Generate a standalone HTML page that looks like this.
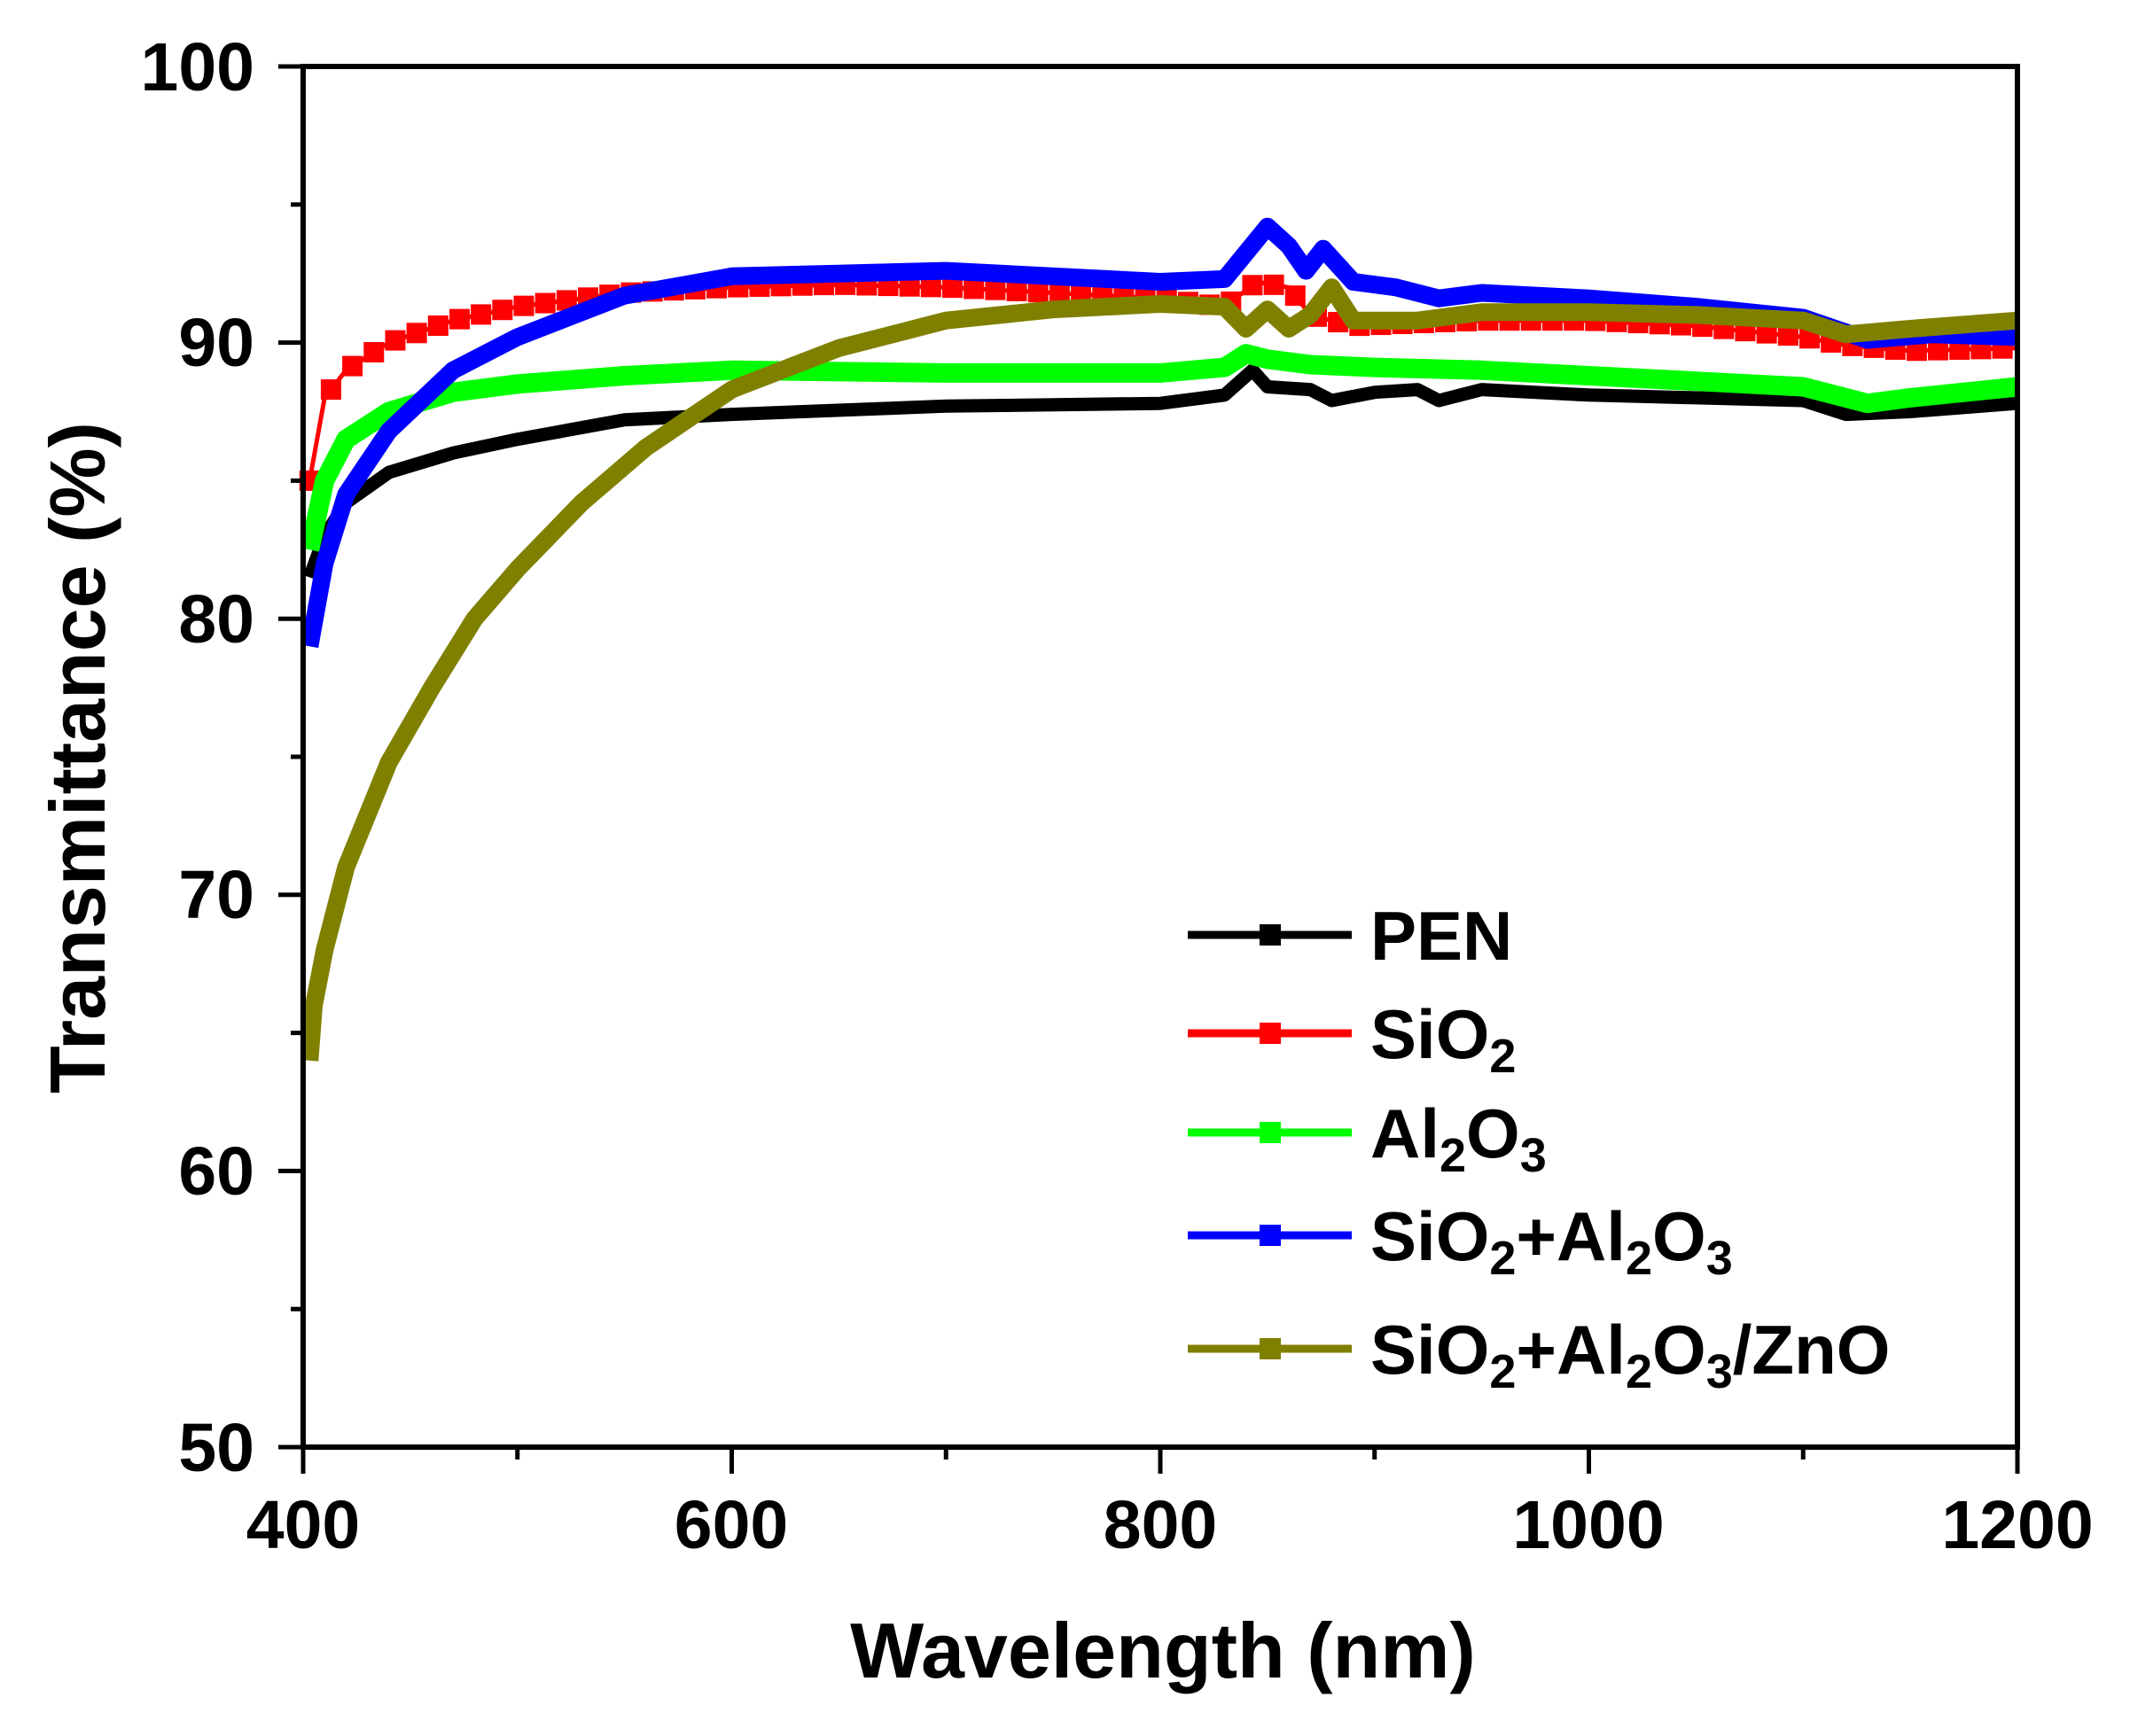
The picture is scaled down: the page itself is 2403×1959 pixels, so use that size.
<!DOCTYPE html>
<html><head><meta charset="utf-8"><style>
html,body{margin:0;padding:0;background:#fff;}
svg{display:block;font-family:"Liberation Sans",Arial,sans-serif;font-weight:bold;}
</style></head><body>
<svg id="s" width="2403" height="1959" viewBox="0 0 2403 1959" xmlns="http://www.w3.org/2000/svg">
<rect width="2403" height="1959" fill="#fff"/>
<g id="curves"></g>
<rect x="342" y="75" width="1934" height="1558" fill="none" stroke="#000" stroke-width="6"/>
<g id="ticks" stroke="#000" stroke-width="5"></g>
<g font-size="77" text-anchor="end">
<text x="287" y="102">100</text>
<text x="287" y="413">90</text>
<text x="287" y="725">80</text>
<text x="287" y="1036">70</text>
<text x="287" y="1348">60</text>
<text x="287" y="1660">50</text>
</g>
<g font-size="77" text-anchor="middle">
<text x="342" y="1747">400</text>
<text x="825" y="1747">600</text>
<text x="1309" y="1747">800</text>
<text x="1792" y="1747">1000</text>
<text x="2276" y="1747">1200</text>
</g>
<text x="1312" y="1893" font-size="88" text-anchor="middle">Wavelength (nm)</text>
<text transform="translate(118,855) rotate(-90)" font-size="88" text-anchor="middle">Transmittance (%)</text>
<g id="legend" font-size="78"></g>
</svg>
<script>
const X=w=>342+(w-400)*1934/800, Y=t=>75+(100-t)*1558/50;
const series=[
["#000",15,[[403,81.5],[410,83],[420,84.2],[440,85.3],[470,86],[500,86.5],[550,87.2],[600,87.4],[700,87.7],[800,87.8],[830,88.1],[843,89],[850,88.4],[870,88.3],[880,87.9],[900,88.2],[920,88.3],[930,87.9],[950,88.3],[1000,88.1],[1050,88],[1100,87.9],[1120,87.4],[1150,87.5],[1200,87.8]]],
["#00ff00",22,[[403,82.5],[410,85],[420,86.5],[440,87.5],[470,88.2],[500,88.5],[550,88.8],[600,89],[700,88.9],[800,88.9],[830,89.1],[840,89.6],[850,89.4],[870,89.2],[900,89.1],[950,89],[1000,88.8],[1050,88.6],[1100,88.4],[1130,87.8],[1150,88],[1200,88.4]]],
["#0000ff",20,[[403,79],[410,82],[420,84.5],[440,86.8],[470,89],[500,90.2],[550,91.7],[600,92.4],[650,92.5],[700,92.6],[800,92.2],[830,92.3],[850,94.2],[860,93.5],[868,92.6],[876,93.4],[890,92.2],[910,92],[930,91.6],[950,91.8],[1000,91.6],[1050,91.3],[1100,90.9],[1130,90.1],[1160,90.3],[1200,90.2]]],
["#808000",20,[[403,64],[405,66],[410,68],[420,71],[440,74.8],[460,77.5],[480,80],[500,81.8],[530,84.2],[560,86.2],[600,88.3],[650,89.8],[700,90.8],[750,91.2],[800,91.4],[830,91.3],[840,90.5],[850,91.2],[860,90.5],[870,91],[880,92],[890,90.8],[920,90.8],[950,91.1],[1000,91.1],[1050,91],[1100,90.8],[1120,90.3],[1150,90.5],[1200,90.8]]]
];
const red=[[403,85],[410,88],[420,89],[440,90],[470,90.8],[500,91.3],[550,91.8],[600,92],[650,92.1],[700,92],[800,91.6],[830,91.3],[845,92.2],[860,92],[870,91],[890,90.6],[950,90.8],[1000,90.8],[1050,90.6],[1100,90.2],[1120,89.9],[1150,89.7],[1200,89.8]];
function interp(d,w){for(let i=0;i<d.length-1;i++){if(w>=d[i][0]&&w<=d[i+1][0]){const f=(w-d[i][0])/(d[i+1][0]-d[i][0]);return d[i][1]+f*(d[i+1][1]-d[i][1]);}}return d[d.length-1][1];}
let h='';
function pl(d,c,sw){return `<polyline fill="none" stroke="${c}" stroke-width="${sw}" stroke-linejoin="round" points="${d.map(p=>X(p[0]).toFixed(1)+','+Y(p[1]).toFixed(1)).join(' ')}"/>`;}
h+=pl(red,"#ff0000",5);
for(let w=403;w<=1200;w+=10){const x=X(w),y=Y(interp(red,w));h+=`<rect x="${x-11.5}" y="${y-11.5}" width="23" height="23" fill="#ff0000"/>`;}
for(const s of series) h+=pl(s[2],s[0],s[1]);
document.getElementById('curves').innerHTML=h;
let t='';
for(let v=50;v<=100;v+=5){const y=Y(v);t+=`<line x1="${v%10==0?314:328}" x2="342" y1="${y}" y2="${y}"/>`;}
for(let w=400;w<=1200;w+=100){const x=X(w);t+=`<line x1="${x}" x2="${x}" y1="1633" y2="${w%200==0?1663:1647}"/>`;}
document.getElementById('ticks').innerHTML=t;
const L=[["#000","PEN",1055],["#ff0000","SiO<tspan font-size='54' dy='16'>2</tspan>",1166],["#00ff00","Al<tspan font-size='54' dy='16'>2</tspan><tspan dy='-16'>O</tspan><tspan font-size='54' dy='16'>3</tspan>",1278],["#0000ff","SiO<tspan font-size='54' dy='16'>2</tspan><tspan dy='-16'>+Al</tspan><tspan font-size='54' dy='16'>2</tspan><tspan dy='-16'>O</tspan><tspan font-size='54' dy='16'>3</tspan>",1394],["#808000","SiO<tspan font-size='54' dy='16'>2</tspan><tspan dy='-16'>+Al</tspan><tspan font-size='54' dy='16'>2</tspan><tspan dy='-16'>O</tspan><tspan font-size='54' dy='16'>3</tspan><tspan dy='-16'>/ZnO</tspan>",1522]];
let l='';
for(const [c,s,y] of L){l+=`<line x1="1340" x2="1525" y1="${y}" y2="${y}" stroke="${c}" stroke-width="9"/><rect x="1421" y="${y-12}" width="24" height="24" fill="${c}"/><text x="1546" y="${y+28}">${s}</text>`;}
document.getElementById('legend').innerHTML=l;
</script>
</body></html>
